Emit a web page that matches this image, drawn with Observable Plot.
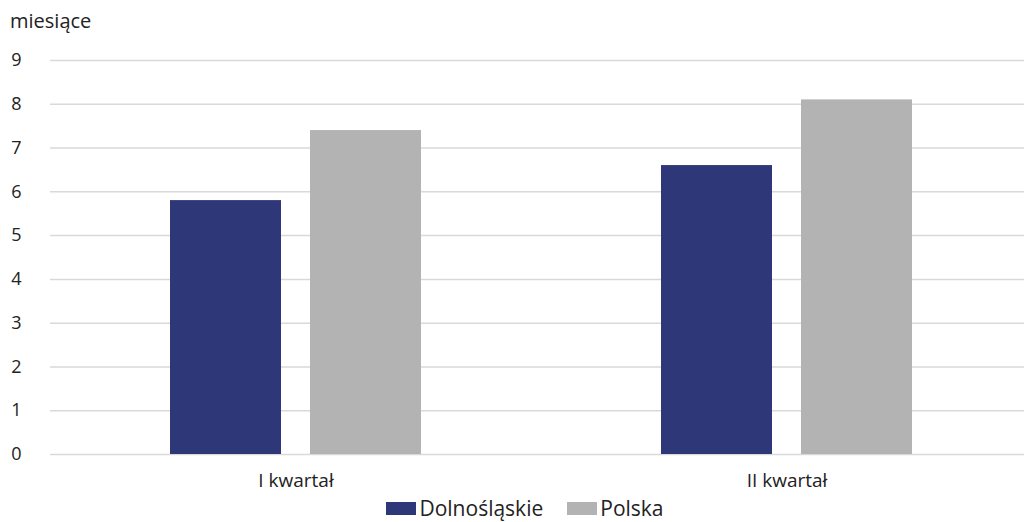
<!DOCTYPE html>
<html>
<head>
<meta charset="utf-8">
<script src="https://cdn.jsdelivr.net/npm/d3@7"></script>
<script src="https://cdn.jsdelivr.net/npm/@observablehq/plot@0.6"></script>
<style>
  html, body { margin: 0; padding: 0; background: #fff; }
  body { width: 1024px; height: 522px; overflow: hidden; font-family: "Open Sans", sans-serif; color: #222; }
  #ylabel { height: 45px; box-sizing: border-box; padding: 8px 0 0 10px; font-size: 20px; line-height: 26px; }
  #legend { display: flex; justify-content: center; align-items: center; gap: 24px; font-size: 21px; line-height: 22px; height: 22px; margin-left: 26px; }
  .item { display: flex; align-items: center; gap: 3px; }
  .sw { width: 30px; height: 13px; display: inline-block; }
  svg { display: block; }
</style>
</head>
<body>
<div id="ylabel"></div>
<div id="chart"></div>
<div id="legend"></div>
<script>
const quarters = ["I kwartał", "II kwartał"];
const series = ["Dolnośląskie", "Polska"];
const dolnoslaskie = [5.8, 6.6];
const polska = [7.4, 8.1];
const colors = ["#2e3878", "#b3b3b3"];
const yTicks = [0, 1, 2, 3, 4, 5, 6, 7, 8, 9];
const yLabel = "miesiące";

const data = quarters.flatMap((q, i) => [
  {q, s: series[0], v: dolnoslaskie[i]},
  {q, s: series[1], v: polska[i]}
]);

document.getElementById("ylabel").textContent = yLabel;

const font = "'Open Sans', sans-serif";
const chart = Plot.plot({
  width: 1024,
  height: 452,
  marginTop: 15,
  marginLeft: 50,
  marginRight: -8,
  marginBottom: 43,
  style: {fontFamily: font, fontSize: "18px", color: "#222", background: "#fff"},
  fx: {domain: quarters, padding: 0, label: null},
  x: {domain: series, paddingInner: 0.209, paddingOuter: 0.856, axis: null},
  y: {domain: [0, 9], ticks: yTicks, label: null},
  color: {domain: series, range: colors},
  marks: [
    Plot.ruleY(yTicks, {stroke: "#d9d9d9", strokeWidth: 1.5}),
    Plot.barY(data, {fx: "q", x: "s", y: "v", fill: "s"}),
    Plot.axisY(yTicks, {tickSize: 0, tickPadding: 29, label: null, fontSize: 18, fontFamily: font, fill: "#222"}),
    Plot.axisFx({anchor: "bottom", tickSize: 0, tickPadding: 19, label: null, fontSize: 19, fontFamily: font, fill: "#222"})
  ]
});
document.getElementById("chart").appendChild(chart);

const legend = document.getElementById("legend");
series.forEach((s, i) => {
  const item = document.createElement("div");
  item.className = "item";
  const sw = document.createElement("span");
  sw.className = "sw";
  sw.style.background = colors[i];
  const t = document.createElement("span");
  t.textContent = s;
  item.appendChild(sw);
  item.appendChild(t);
  legend.appendChild(item);
});
</script>
</body>
</html>
